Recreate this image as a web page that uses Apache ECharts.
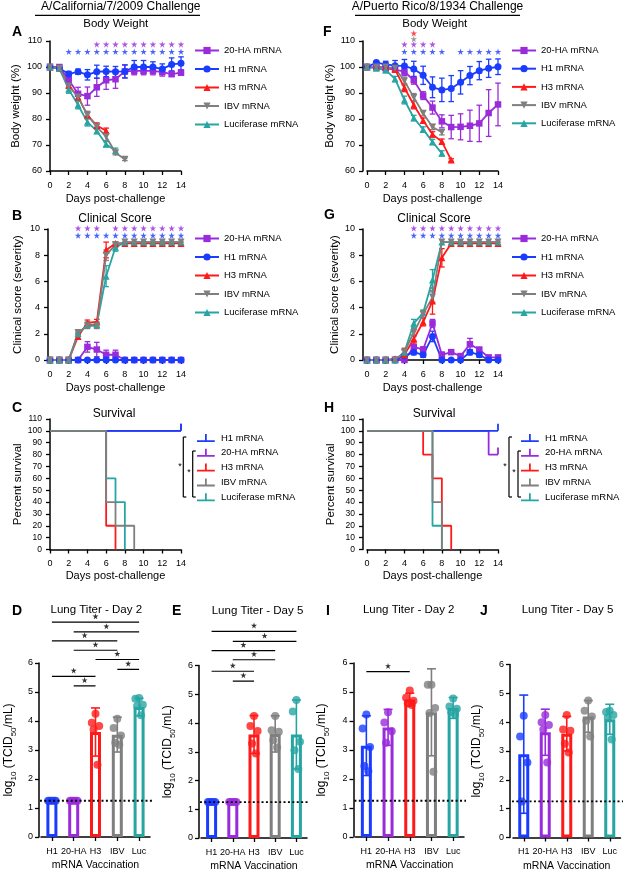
<!DOCTYPE html>
<html><head><meta charset="utf-8">
<script src="https://cdn.jsdelivr.net/npm/echarts@6/dist/echarts.min.js"></script>
<style>html,body{margin:0;padding:0;background:#fff}#c{width:629px;height:874px}</style>
</head><body><div id="c"></div>
<script>
// ---------------- DATA ----------------
const GROUPS = ['20-HA mRNA','H1 mRNA','H3 mRNA','IBV mRNA','Luciferase mRNA'];
const SURV_GROUPS = ['H1 mRNA','20-HA mRNA','H3 mRNA','IBV mRNA','Luciferase mRNA'];
const BAR_CATS = ['H1','20-HA','H3','IBV','Luc'];

// A: California body weight (mean, SD) by day
const A_20HA = [100,100,95,89.7,88.8,92.2,94.9,95.3,98.3,98.5,98.5,98.5,98,97.3,97.8];
const A_20HA_SD = [0,0.8,1.5,2.5,3.5,3.5,3.5,3.5,2.5,1.5,1.5,1.5,1.5,1,1];
const A_H1 = [100,99.5,97.3,98.2,97,98.2,98.3,98.2,98.3,100,100,100,99.2,101,101.4];
const A_H1_SD = [0,0.5,1,1,2,2.5,2,2,2.5,2.5,2.5,2,2,2.5,2.5];
const A_H3 = [100,99.5,93,88.5,81.5,77.5,75.5];
const A_H3_SD = [0,0.5,1,1,1,1,1];
const A_IBV = [100,99.5,92.7,88.5,81.5,77,73.2,67,64.5];
const A_IBV_SD = [0,0.5,1,1.5,1.5,1,1.5,0.8,0.5];
const A_LUC = [100,99.5,91.4,85.4,78.8,75.4,70.3,67.8];
const A_LUC_SD = [0,0.5,1.5,1.5,1.5,1,1,1];
const A_STAR_20HA = [5,6,7,8,9,10,11,12,13,14];
const A_STAR_H1 = [2,3,4,5,6,7,8,9,10,11,12,13,14];

// F: Puerto Rico body weight
const F_20HA = [100,100,99.5,99,98.2,94.9,89,84.4,79.1,76.9,77,77.4,78.3,82.3,85.6];
const F_20HA_SD = [0,0.5,1,1,1.5,1.5,1.5,2.5,2.5,4.5,5,6,7,9,8.2];
const F_H1 = [100,101.7,101,100.5,100.4,99.2,96.8,92.2,91.2,91.7,94.1,96.7,98.6,99.5,100.1];
const F_H1_SD = [0,0.5,1.2,2,2.5,3,3.5,4,4.5,5,4.5,3.5,3.5,3.5,3];
const F_H3 = [100,100,100,99,92,85.4,79.4,74.1,71.3,64.2];
const F_H3_SD = [0,0.5,1,1,1.5,1.5,1,1,1,0.5];
const F_IBV = [100,100,100,99.5,94.6,88.3,82.2,76.9,74.9];
const F_IBV_SD = [0,0.5,1,1,1.5,1.5,1,1,1];
const F_LUC = [100,99.5,98.8,95.4,87.3,80.4,76,71.2,66.8];
const F_LUC_SD = [0,0.5,1,1,1.5,1,1,1,1];
const F_STAR_H1 = [4,5,6,7,8,10,11,12,13,14];
const F_STAR_20HA = [4,5,6,7];
const F_STAR_IBV = [5];
const F_STAR_H3 = [5];

// B: California clinical score
const B_20HA = [0,0,0,0,1,0.8,0.4,0.4,0,0,0,0,0,0,0];
const B_20HA_SD = [0,0,0,0,0.4,0.55,0.35,0.35,0,0,0,0,0,0,0];
const B_H1 = [0,0,0,0,0,0,0,0,0,0,0,0,0,0,0];
const B_H1_SD = [0,0,0,0,0,0,0,0,0,0,0,0,0,0,0];
const B_H3 = [0,0,0,1.8,2.85,2.9,8.4,8.9,8.9,8.9,8.9,8.9,8.9,8.9,8.9];
const B_H3_SD = [0,0,0,0.2,0.2,0.2,0.6,0.1,0.1,0.1,0.1,0.1,0.1,0.1,0.1];
const B_IBV = [0,0,0,2.1,2.6,2.6,8,8.8,9,9,9,9,9,9,9];
const B_IBV_SD = [0,0,0,0.1,0.2,0.2,0.4,0.2,0,0,0,0,0,0,0];
const B_LUC = [0,0,0,2,2.7,2.7,6.4,8.6,9,9,9,9,9,9,9];
const B_LUC_SD = [0,0,0,0.1,0.2,0.2,0.8,0.3,0,0,0,0,0,0,0];
const B_STAR_20HA = [3,4,5,7,8,9,10,11,12,13,14];
const B_STAR_H1 = [3,4,5,6,7,8,9,10,11,12,13,14];

// G: Puerto Rico clinical score
const G_20HA = [0,0,0,0,0,1,0.8,2.8,0.4,0.6,0.3,1.2,0.8,0.2,0.2];
const G_20HA_SD = [0,0,0,0,0,0.45,0.2,0.3,0.2,0.1,0.1,0.45,0.1,0.1,0.1];
const G_H1 = [0,0,0,0,0.3,0.6,0.4,1.8,0,0,0,0.6,0.4,0,0];
const G_H1_SD = [0,0,0,0,0.2,0.2,0.2,0.4,0,0,0,0.2,0.2,0,0];
const G_H3 = [0,0,0,0.1,0.4,1.6,2.9,4.5,7.8,8.9,8.9,8.9,8.9,8.9,8.9];
const G_H3_SD = [0,0,0,0.1,0.5,0.3,0.3,1.0,0.7,0.1,0.1,0.1,0.1,0.1,0.1];
const G_IBV = [0,0,0,0,0.6,2.1,3.5,4.8,9,9,9,9,9,9,9];
const G_IBV_SD = [0,0,0,0,0.2,0.3,0.3,0.4,0,0,0,0,0,0,0];
const G_LUC = [0,0,0,0,0.6,2.8,3.6,6.1,9,9,9,9,9,9,9];
const G_LUC_SD = [0,0,0,0,0.2,0.3,0.2,0.8,0,0,0,0,0,0,0];
const G_STAR_20HA = [5,6,7,8,9,10,11,12,13,14];
const G_STAR_H1 = [5,6,7,8,9,10,11,12,13,14];

// C / H: survival steps [day, percent]
const C_H1 = [[0,100],[14,100]];
const C_20HA = [[0,100],[14,100]];
const C_H3 = [[0,100],[6,20],[7,0]];
const C_IBV = [[0,100],[6,40],[7,20],[9,0]];
const C_LUC = [[0,100],[6,60],[7,40],[8,0]];
const H_H1 = [[0,100],[14,100]];
const H_20HA = [[0,100],[13,80],[14,80]];
const H_H3 = [[0,100],[6,80],[7,60],[8,20],[9,0]];
const H_IBV = [[0,100],[7,40],[8,0]];
const H_LUC = [[0,100],[7,20],[8,0]];

// D, E, I, J: lung titers (means, SD, individual points)
const D_MEAN = [1.25,1.25,3.62,3.53,4.48];
const D_SD = [0,0,0.83,0.6,0.3];
const D_PTS = [[1.25,1.25,1.25,1.25,1.25],[1.25,1.25,1.25,1.25,1.25],[4.25,3.94,3.83,3.71,2.49],[4.08,3.76,3.5,3.25,3.18],[4.79,4.77,4.56,4.52,4.2]];
const D_SIG = [[0,4,7.41],[1,4,7.07],[0,3,6.76],[1,3,6.44],[2,4,6.12],[3,4,5.78],[0,2,5.54],[1,2,5.21]];

const E_MEAN = [1.25,1.25,3.6,3.62,3.6];
const E_SD = [0,0,0.66,0.63,1.2];
const E_PTS = [[1.25,1.25,1.25,1.25,1.25],[1.25,1.25,1.25,1.25,1.25],[4.24,3.9,3.72,3.29,2.94],[4.24,3.75,3.7,3.4,3.15],[4.8,4.4,3.35,3.05,2.4]];
const E_SIG = [[0,4,7.19],[1,4,6.84],[0,3,6.52],[1,3,6.2],[0,2,5.8],[1,2,5.46]];

const I_MEAN = [3.15,3.78,4.74,4.3,4.45];
const I_SD = [1.03,0.62,0.22,1.5,0.36];
const I_PTS = [[4.22,3.74,3.1,2.45,2.27],[4.3,3.95,3.65,3.25],[5.05,4.8,4.7,4.6,4.55],[5.25,5.25,4.45,4.28,2.25],[4.78,4.5,4.42,4.3,4.22]];
const I_SIG = [[0,2,5.7]];

const J_MEAN = [2.89,3.65,3.6,4.2,4.1];
const J_SD = [2.05,0.8,0.6,0.55,0.52];
const J_PTS = [[4.22,3.5,2.6,1.25],[4.25,4.0,3.9,3.75,2.6],[4.25,3.75,3.7,3.25,2.95],[4.75,4.4,4.2,4.05,3.5],[4.4,4.35,4.25,4.15,3.4]];
const J_SIG = [];

const LOD = 1.25;

// ---------------- STYLE ----------------
const FONT = '"Liberation Sans", Arial, Helvetica, sans-serif';
const COLORS = {'20-HA mRNA':'#9A2BDB','H1 mRNA':'#1A3CFF','H3 mRNA':'#FF1A1A','IBV mRNA':'#7F7F7F','Luciferase mRNA':'#27A5A2'};
const BAR_COLORS = [COLORS['H1 mRNA'],COLORS['20-HA mRNA'],COLORS['H3 mRNA'],COLORS['IBV mRNA'],COLORS['Luciferase mRNA']];
const SYM = {'20-HA mRNA':['rect',6.5,0],'H1 mRNA':['circle',7,0],'H3 mRNA':['triangle',7,0],'IBV mRNA':['triangle',7,180],'Luciferase mRNA':['triangle',7,0]};
const DRAW_ORDER = ['20-HA mRNA','H1 mRNA','H3 mRNA','Luciferase mRNA','IBV mRNA'];
const STAR = 'path://M50,0L61.8,36.3L100,36.3L69.1,58.8L80.9,95.1L50,72.6L19.1,95.1L30.9,58.8L0,36.3L38.2,36.3Z';
const JIT = [0,-0.17,0.17,-0.09,0.09];

const grids=[], xAxes=[], yAxes=[], series=[], legends=[], graphics=[];

function ax(extra){
  return Object.assign({
    axisLine:{show:true,onZero:false,lineStyle:{color:'#000',width:1.5}},
    axisTick:{show:true,length:4,lineStyle:{color:'#000',width:1.3}},
    axisLabel:{color:'#000',fontSize:9,fontFamily:FONT,margin:8},
    splitLine:{show:false},
    nameTextStyle:{color:'#000',fontSize:11.5,fontFamily:FONT}
  }, extra);
}
function xDays(gi, gap){
  return ax({type:'value',gridIndex:gi,min:0,max:14,interval:2,name:'Days post-challenge',nameLocation:'middle',nameGap:gap,
    axisLabel:{color:'#000',fontSize:9,fontFamily:FONT,margin:10},
    nameTextStyle:{color:'#000',fontSize:11,fontFamily:FONT}});
}

function errSeries(xi, yi, items, capHalf, lw, z){
  return {type:'custom', xAxisIndex:xi, yAxisIndex:yi, data:items, encode:{x:0,y:[1,2]}, z:z, silent:true, animation:false, clip:false,
    renderItem:function(p, api){
      const x=api.value(0), lo=api.value(1), hi=api.value(2), ci=api.value(3);
      const col = ci>=100 ? BAR_COLORS[ci-100] : COLORS[GROUPS[ci]];
      const a=api.coord([x,hi]), b=api.coord([x,lo]);
      const st={stroke:col,lineWidth:lw};
      return {type:'group',children:[
        {type:'line',shape:{x1:a[0],y1:a[1],x2:b[0],y2:b[1]},style:st},
        {type:'line',shape:{x1:a[0]-capHalf,y1:a[1],x2:a[0]+capHalf,y2:a[1]},style:st},
        {type:'line',shape:{x1:b[0]-capHalf,y1:b[1],x2:b[0]+capHalf,y2:b[1]},style:st}
      ]};
    }};
}

function linePanel(key, gi, box, yCfg, vals, sds, stars, leg){
  grids.push(Object.assign({}, box));
  xAxes.push(xDays(gi,22));
  yAxes.push(ax({type:'value',gridIndex:gi,min:yCfg.min,max:yCfg.max,interval:yCfg.interval,offset:yCfg.offset||0,name:yCfg.name,
    nameLocation:'middle',nameGap:yCfg.nameGap,nameRotate:90}));
  const errItems=[];
  GROUPS.forEach((g,ci)=>{ vals[g].forEach((v,d)=>{ const e=sds[g][d]; if(e>0) errItems.push([d,v-e,v+e,ci]); }); });
  series.push(errSeries(gi,gi,errItems,2.8,1.3,2));
  DRAW_ORDER.forEach(g=>{
    series.push({type:'line',name:key+'|'+g,xAxisIndex:gi,yAxisIndex:gi,data:vals[g].map((v,d)=>[d,v]),
      symbol:SYM[g][0],symbolSize:SYM[g][1],symbolRotate:SYM[g][2],showSymbol:true,
      lineStyle:{color:COLORS[g],width:1.8},itemStyle:{color:COLORS[g],borderWidth:0},z:3,animation:false,clip:false});
  });
  stars.forEach(s=>{
    series.push({type:'scatter',xAxisIndex:gi,yAxisIndex:gi,data:s.days.map(d=>[d,s.y]),symbol:STAR,symbolSize:6.5,
      itemStyle:{color:COLORS[s.g]},z:4,clip:false,animation:false,silent:true});
  });
  legends.push({orient:'vertical',left:leg.left,top:leg.top,padding:0,itemWidth:24,itemHeight:9,itemGap:leg.gap,selectedMode:false,
    data:GROUPS.map(g=>key+'|'+g),formatter:n=>n.split('|')[1],
    textStyle:{color:'#000',fontSize:9.5,fontFamily:FONT}});
}

function survPanel(key, gi, box, steps, yCfg, leg){
  grids.push(Object.assign({}, box));
  xAxes.push(xDays(gi,21));
  yAxes.push(ax({type:'value',gridIndex:gi,min:0,max:110,interval:10,offset:yCfg.offset||0,name:'Percent survival',
    nameLocation:'middle',nameGap:yCfg.nameGap,nameRotate:90,axisLabel:{color:'#000',fontSize:8.5,fontFamily:FONT,margin:8}}));
  const order=['20-HA mRNA','H1 mRNA','H3 mRNA','Luciferase mRNA','IBV mRNA'];
  order.forEach(g=>{
    const pts=steps[g];
    series.push({type:'line',name:key+'|'+g,xAxisIndex:gi,yAxisIndex:gi,step:'end',symbol:'none',showSymbol:true,
      data:pts.map((p,i)=>{ const last=(i===pts.length-1 && p[1]>0);
        return last?{value:p,symbol:'rect',symbolSize:[1.8,7],symbolOffset:[0,-3.5]}:{value:p,symbol:'none'}; }),
      lineStyle:{color:COLORS[g],width:1.8},itemStyle:{color:COLORS[g]},z:3,animation:false,clip:false});
  });
  legends.push({orient:'vertical',left:leg.left,top:leg.top,padding:0,itemWidth:20,itemHeight:8,itemGap:leg.gap,selectedMode:false,
    icon:'path://M0,7L9,7L9,0L11,0L11,7L20,7L20,9L0,9Z',
    data:SURV_GROUPS.map(g=>key+'|'+g),formatter:n=>n.split('|')[1],
    textStyle:{color:'#000',fontSize:9.5,fontFamily:FONT}});
}

function barPanel(gi, xci, xvi, box, yCfg, means, sds, pts, sig){
  grids.push(Object.assign({}, box));
  xAxes[xci]=ax({type:'category',gridIndex:gi,data:BAR_CATS,axisTick:{show:true,alignWithLabel:true,length:4,lineStyle:{color:'#000',width:1.3}},
    axisLabel:{color:'#000',fontSize:9,fontFamily:FONT,margin:10,interval:0},
    name:'mRNA Vaccination',nameLocation:'middle',nameGap:23,nameTextStyle:{color:'#000',fontSize:10.5,fontFamily:FONT}});
  xAxes[xvi]={type:'value',gridIndex:gi,min:-0.5,max:4.5,show:false};
  yAxes.push(ax({type:'value',gridIndex:gi,min:0,max:6,interval:1,offset:yCfg.offset,
    axisLabel:{color:'#000',fontSize:9,fontFamily:FONT,margin:6},
    name:'{a|log}{b|10}{a| (TCID}{b|50}{a|/mL)}',nameLocation:'middle',nameGap:yCfg.nameGap,nameRotate:90,
    nameTextStyle:{rich:{a:{fontSize:12,fontFamily:FONT,color:'#000',lineHeight:16,verticalAlign:'bottom',padding:[0,0,3,0]},
      b:{fontSize:8,fontFamily:FONT,color:'#000',lineHeight:16,verticalAlign:'bottom'}}}}));
  series.push({type:'bar',xAxisIndex:xci,yAxisIndex:gi,barWidth:11,z:2,animation:false,
    data:means.map((m,i)=>({value:m,itemStyle:{color:'#fff',borderColor:BAR_COLORS[i],borderWidth:3}}))});
  const errItems=[];
  means.forEach((m,i)=>{ if(sds[i]>0) errItems.push([i,m-sds[i],m+sds[i],100+i]); });
  series.push(errSeries(xvi,gi,errItems,4.5,1.6,3));
  const dots=[];
  pts.forEach((arr,i)=>arr.forEach((v,k)=>dots.push({value:[i+JIT[k%JIT.length],v],itemStyle:{color:BAR_COLORS[i]}})));
  series.push({type:'scatter',xAxisIndex:xvi,yAxisIndex:gi,data:dots,symbol:'circle',symbolSize:8,z:4,animation:false,silent:true,clip:false});
  series.push({type:'line',xAxisIndex:xvi,yAxisIndex:gi,data:[[-0.55,LOD],[5.1,LOD]],symbol:'none',clip:false,z:5,animation:false,silent:true,
    lineStyle:{color:'#000',width:1.8,type:[2,2.4]}});
  sig.forEach(s=>{
    series.push({type:'line',xAxisIndex:xvi,yAxisIndex:gi,data:[[s[0],s[2]],[s[1],s[2]]],symbol:'none',clip:false,z:5,animation:false,silent:true,
      lineStyle:{color:'#000',width:1.2}});
    series.push({type:'scatter',xAxisIndex:xvi,yAxisIndex:gi,data:[[(s[0]+s[1])/2,s[2]+0.2]],symbol:STAR,symbolSize:6,clip:false,z:5,animation:false,silent:true,
      itemStyle:{color:'#000'}});
  });
}

function grp(a,b,c,d,e){return {'20-HA mRNA':a,'H1 mRNA':b,'H3 mRNA':c,'IBV mRNA':d,'Luciferase mRNA':e};}

// ---------------- PANELS ----------------
linePanel('A',0,{left:50,top:41,width:131,height:130},{min:60,max:110,interval:10,name:'Body weight (%)',nameGap:28},
  grp(A_20HA,A_H1,A_H3,A_IBV,A_LUC), grp(A_20HA_SD,A_H1_SD,A_H3_SD,A_IBV_SD,A_LUC_SD),
  [{g:'20-HA mRNA',days:A_STAR_20HA,y:108.7},{g:'H1 mRNA',days:A_STAR_H1,y:105.9}],{left:194,top:45.5,gap:8.5});
linePanel('B',1,{left:50,top:229,width:131,height:131},{min:0,max:10,interval:2,offset:2,name:'Clinical score (severity)',nameGap:24},
  grp(B_20HA,B_H1,B_H3,B_IBV,B_LUC), grp(B_20HA_SD,B_H1_SD,B_H3_SD,B_IBV_SD,B_LUC_SD),
  [{g:'20-HA mRNA',days:B_STAR_20HA,y:10.06},{g:'H1 mRNA',days:B_STAR_H1,y:9.5}],{left:194,top:233.5,gap:8.5});
survPanel('C',2,{left:50,top:419,width:131,height:130.5},grp(C_20HA,C_H1,C_H3,C_IBV,C_LUC),{nameGap:24},{left:197,top:433,gap:4.8});
linePanel('F',3,{left:367,top:41,width:131,height:130},{min:60,max:110,interval:10,offset:4,name:'Body weight (%)',nameGap:26},
  grp(F_20HA,F_H1,F_H3,F_IBV,F_LUC), grp(F_20HA_SD,F_H1_SD,F_H3_SD,F_IBV_SD,F_LUC_SD),
  [{g:'H1 mRNA',days:F_STAR_H1,y:105.9},{g:'20-HA mRNA',days:F_STAR_20HA,y:108.7},{g:'IBV mRNA',days:F_STAR_IBV,y:110.8},{g:'H3 mRNA',days:F_STAR_H3,y:113}],
  {left:511,top:45.5,gap:8.2});
linePanel('G',4,{left:367,top:229,width:131,height:131},{min:0,max:10,interval:2,offset:4,name:'Clinical score (severity)',nameGap:19},
  grp(G_20HA,G_H1,G_H3,G_IBV,G_LUC), grp(G_20HA_SD,G_H1_SD,G_H3_SD,G_IBV_SD,G_LUC_SD),
  [{g:'20-HA mRNA',days:G_STAR_20HA,y:10.06},{g:'H1 mRNA',days:G_STAR_H1,y:9.5}],{left:511,top:233.5,gap:8.5});
survPanel('H',5,{left:367,top:419,width:131,height:130.5},grp(H_20HA,H_H1,H_H3,H_IBV,H_LUC),{offset:4,nameGap:18},{left:521,top:433,gap:4.8});

barPanel(6,6,10,{left:41,top:663,width:109,height:174},{offset:2,nameGap:21},D_MEAN,D_SD,D_PTS,D_SIG);
barPanel(7,7,11,{left:201,top:665.5,width:106,height:172.5},{offset:2,nameGap:22},E_MEAN,E_SD,E_PTS,E_SIG);
barPanel(8,8,12,{left:355.5,top:663,width:108.5,height:174},{offset:2,nameGap:23},I_MEAN,I_SD,I_PTS,I_SIG);
barPanel(9,9,13,{left:513,top:664.5,width:107.5,height:173},{offset:3,nameGap:24},J_MEAN,J_SD,J_PTS,J_SIG);

// ---------------- ANNOTATIONS ----------------
function txt(t,x,y,size,weight,align){
  graphics.push({type:'text',x:x,y:y,silent:true,style:{text:t,fill:'#000',fontSize:size,fontWeight:weight||'normal',fontFamily:FONT,
    align:align||'center',verticalAlign:'middle'}});
}
function ln(x1,y1,x2,y2,w){graphics.push({type:'line',silent:true,shape:{x1,y1,x2,y2},style:{stroke:'#000',lineWidth:w||1.2}});}
txt('A/California/7/2009 Challenge',120.8,7,12);
ln(35,15.3,200,15.3,1.2);
txt('A/Puerto Rico/8/1934 Challenge',437.5,7,12);
ln(355,15.3,520,15.3,1.2);
txt('Body Weight',115.8,24,11.5); txt('Body Weight',434.8,24,11.5);
txt('Clinical Score',115,219,12); txt('Clinical Score',434,219,12);
txt('Survival',114,413.5,12); txt('Survival',434,413.5,12);
txt('Lung Titer - Day 2',96.3,610,11.5); txt('Lung Titer - Day 5',257.5,611,11.5);
txt('Lung Titer - Day 2',408.7,610,11.5); txt('Lung Titer - Day 5',567.5,610,11.5);
[['A',12,32.5],['B',12,215.8],['C',12,408],['D',12,611],['E',172,611],['F',323,32.5],['G',324,215.5],['H',324,408],['I',326,611],['J',480,611]]
  .forEach(l=>txt(l[0],l[1],l[2],14,'bold','left'));
// survival comparison brackets
[[183.3,437,497,180,467],[192.7,451,497,189,473],[509,437,497,505,467],[518,451,497,514,473]].forEach(b=>{
  ln(b[0],b[1],b[0],b[2],1.2); ln(b[0],b[1],b[0]+3,b[1],1.2); ln(b[0],b[2],b[0]+3,b[2],1.2);
  txt('*',b[3],b[4],9,'normal','center');
});

const chart = echarts.init(document.getElementById('c'));
chart.setOption({animation:false,backgroundColor:'#fff',textStyle:{fontFamily:FONT},
  grid:grids,xAxis:xAxes,yAxis:yAxes,series:series,legend:legends,graphic:graphics,tooltip:{show:false}});
</script></body></html>
